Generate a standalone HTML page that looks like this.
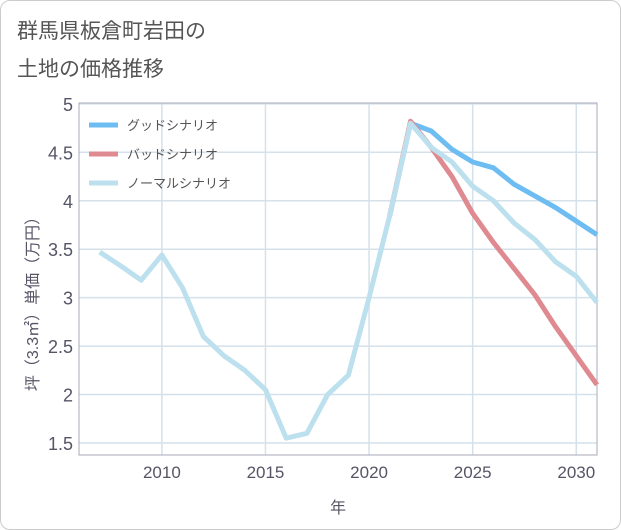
<!DOCTYPE html>
<html><head><meta charset="utf-8"><style>
body{margin:0;background:#fff;}
#wrap{position:relative;width:619px;height:528px;border:1px solid #ccc;border-radius:10px;overflow:hidden;background:#fff;font-family:"Liberation Sans","Noto Sans CJK JP",sans-serif;}
.title{position:absolute;left:16px;font-size:21px;color:#555;}
</style></head><body>
<div id="wrap">
<div class="title" style="top:14px">群馬県板倉町岩田の</div>
<div class="title" style="top:52px">土地の価格推移</div>
<svg id="chart" width="621" height="530" style="position:absolute;left:-1px;top:-1px"></svg>
</div>
<script>
const years=[2007,2008,2009,2010,2011,2012,2013,2014,2015,2016,2017,2018,2019,2020,2021,2022,2023,2024,2025,2026,2027,2028,2029,2030,2031];
const normal=[3.47,3.33,3.18,3.44,3.1,2.6,2.4,2.25,2.05,1.55,1.6,2.0,2.2,3.0,3.85,4.8,4.55,4.4,4.15,4.0,3.77,3.6,3.37,3.22,2.95];
const goodYears=[2021,2022,2023,2024,2025,2026,2027,2028,2029,2030,2031];
const good=[3.85,4.8,4.72,4.53,4.4,4.34,4.17,4.05,3.93,3.79,3.65];
const bad=[3.85,4.82,4.55,4.25,3.87,3.57,3.3,3.03,2.7,2.4,2.1];
const yTicks=[1.5,2,2.5,3,3.5,4,4.5,5];
const xTicks=[2010,2015,2020,2025,2030];
const NS='http://www.w3.org/2000/svg';
const svg=document.getElementById('chart');
const L=79,R=597,T=103,B=455;
const x=v=>L+(v-2006)/(2031-2006)*(R-L);
const y=v=>443-(v-1.5)*96.9;
function el(t,a,p){const e=document.createElementNS(NS,t);for(const k in a)e.setAttribute(k,a[k]);(p||svg).appendChild(e);return e;}
yTicks.forEach(v=>{const g=el('line',{x1:L,x2:R,y1:y(v),y2:y(v),stroke:'#d5e1ea','stroke-width':1.5});

const t=el('text',{x:73,y:y(v)+7,'text-anchor':'end','font-size':18,fill:'#556'});t.textContent=v;
});
xTicks.forEach(v=>{const g=el('line',{x1:x(v),x2:x(v),y1:T,y2:B,stroke:'#d5e1ea','stroke-width':1.5});

const t=el('text',{x:x(v),y:478,'text-anchor':'middle','font-size':17,fill:'#556'});t.textContent=v;
});
const fr=el('rect',{x:L,y:T,width:R-L,height:B-T,fill:'none',stroke:'#aab','stroke-width':1});

function line(xs,vs,c,name){const p=el('polyline',{points:xs.map((v,i)=>x(v)+','+y(vs[i])).join(' '),fill:'none',stroke:c,'stroke-width':5,'stroke-linejoin':'round'});
}
line(goodYears,good,'#6ebdf2','good-scenario-line');
line(goodYears,bad,'#df8a90','bad-scenario-line');
line(years,normal,'#bde0ee','normal-scenario-line');
const leg=[['グッドシナリオ','#6ebdf2'],['バッドシナリオ','#df8a90'],['ノーマルシナリオ','#bde0ee']];
leg.forEach((d,i)=>{const yy=125+i*29;
const l=el('line',{x1:89,x2:118,y1:yy,y2:yy,stroke:d[1],'stroke-width':5});

const t=el('text',{x:127,y:yy+5,'font-size':13,fill:'#555'});t.textContent=d[0];
});
const xt=el('text',{x:338,y:513,'text-anchor':'middle','font-size':16,fill:'#556'});xt.textContent='年';

const yt=el('text',{x:0,y:0,'text-anchor':'middle','font-size':16,fill:'#556',transform:'translate(38,300) rotate(-90)'});yt.textContent='坪（3.3㎡）単価（万円）';

</script>
</body></html>
